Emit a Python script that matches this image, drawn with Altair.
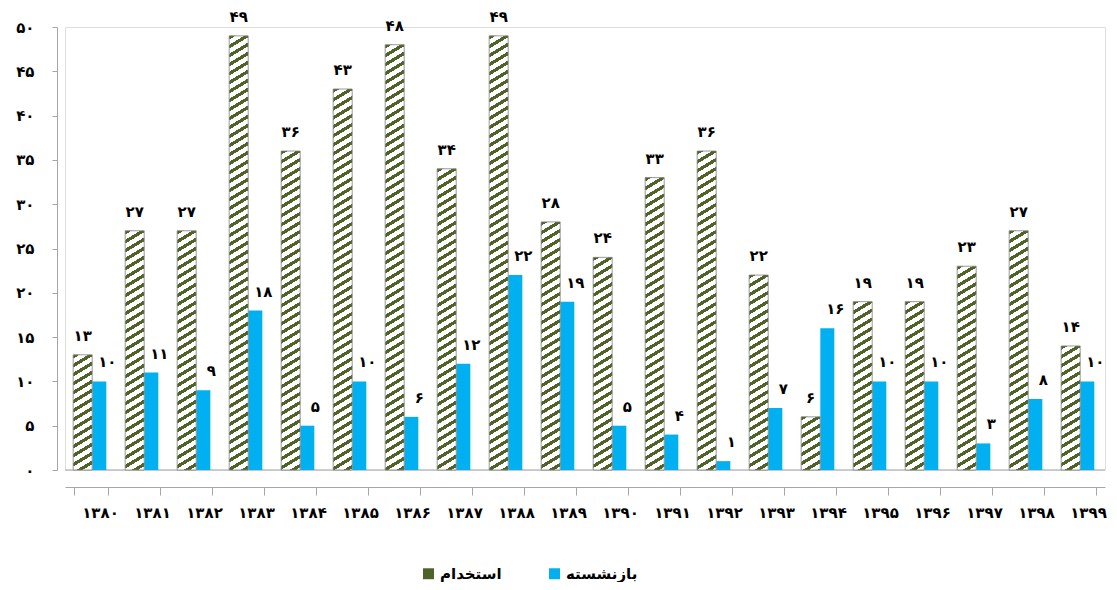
import altair as alt
import pandas as pd

years = list(range(1380, 1400))
hired = [13, 27, 27, 49, 36, 43, 48, 34, 49, 28, 24, 33, 36, 22, 6, 19, 19, 23, 27, 14]
retired = [10, 11, 9, 18, 5, 10, 6, 12, 22, 19, 5, 4, 1, 7, 16, 10, 10, 3, 8, 10]
SER_H = "استخدام"
SER_R = "بازنشسته"
y_ticks = list(range(0, 51, 5))

fa = str.maketrans("0123456789", "۰۱۲۳۴۵۶۷۸۹")
year_labels = [str(y).translate(fa) for y in years]
y_tick_labels = [str(v).translate(fa) for v in y_ticks]

rows = []
for yl, h, r in zip(year_labels, hired, retired):
    rows.append({"year": yl, "series": SER_H, "value": h, "label": str(h).translate(fa)})
    rows.append({"year": yl, "series": SER_R, "value": r, "label": str(r).translate(fa)})
df = pd.DataFrame(rows)

W, H = 1040, 443
GREEN = "#4F6228"
BLUE = "#00B0F0"
FONT = "DejaVu Sans"
HW, BW = 19, 14


def hatch(v, w=HW, period=9.0, slope=0.6, frac=0.42):
    h = max(v * H / 50.0, 1.0)
    cx, cy = slope * w / (slope * w + h), h / (slope * w + h)
    n2 = cx * cx + cy * cy
    x2, y2 = cx / n2, cy / n2
    n = (slope * w + h) / period
    stops = []
    i = 0
    while i < n:
        a = round(i / n, 5)
        b = round(min((i + frac) / n, 1), 5)
        c = round(min((i + 1) / n, 1), 5)
        stops += [{"offset": a, "color": GREEN}, {"offset": b, "color": GREEN},
                  {"offset": b, "color": "#ffffff"}, {"offset": c, "color": "#ffffff"}]
        i += 1
    return {"gradient": "linear", "x1": 0, "y1": 0, "x2": round(x2, 5), "y2": round(y2, 5), "stops": stops}


x_enc = alt.X(
    "year:N", sort=year_labels,
    scale=alt.Scale(domain=year_labels, paddingInner=0.36, paddingOuter=0.18),
    axis=alt.Axis(title=None, labelAngle=0, offset=17, domainColor="#a6a6a6", tickColor="#a6a6a6",
                  tickSize=8, tickBand="extent", labelPadding=10, labelFontSize=15, labelFont=FONT,
                  labelFontWeight="bold", labelColor="#000000", labelOffset=9),
)
xo_enc = alt.XOffset("series:N", scale=alt.Scale(domain=[SER_H, SER_R], paddingInner=0, paddingOuter=0))
y_enc = alt.Y(
    "value:Q", scale=alt.Scale(domain=[0, 50], nice=False),
    axis=alt.Axis(title=None, grid=False, values=y_ticks, offset=8, domainColor="#a6a6a6",
                  tickColor="#a6a6a6", tickSize=5, labelPadding=18, labelFontSize=15, labelFont=FONT,
                  labelFontWeight="bold", labelColor="#000000",
                  labelExpr="[" + ",".join("'" + s + "'" for s in y_tick_labels) + "][datum.value/5]"),
)

base = alt.Chart(df)

floor = alt.Chart(pd.DataFrame({"v": [0]})).mark_rule(color="#bfbfbf", strokeWidth=1.5).encode(y=alt.Y("v:Q"))

blue_bars = base.transform_filter(alt.datum.series == SER_R).mark_bar(width=BW).encode(
    x=x_enc, xOffset=xo_enc, y=y_enc,
    color=alt.Color("series:N", scale=alt.Scale(domain=[SER_H, SER_R], range=[GREEN, BLUE]),
                    legend=alt.Legend(title=None, orient="none", legendX=356, legendY=539,
                                      direction="horizontal", symbolType="square", symbolSize=120,
                                      labelFontSize=15, labelFont=FONT, labelFontWeight="bold",
                                      labelColor="#000000", columnPadding=45, padding=0,
                                      labelLimit=300, symbolStrokeWidth=0)),
)

hatched = []
for yl, h in zip(year_labels, hired):
    hatched.append(
        base.transform_filter((alt.datum.series == SER_H) & (alt.datum.year == yl))
        .mark_bar(width=HW, fill=hatch(h), stroke="#7f7f7f", strokeWidth=0.8)
        .encode(x=x_enc, xOffset=xo_enc, y=y_enc)
    )

txt_h = base.transform_filter(alt.datum.series == SER_H).mark_text(
    baseline="bottom", dy=-11, fontSize=15, font=FONT, fontWeight="bold", color="#000000"
).encode(x=x_enc, xOffset=xo_enc, y=y_enc, text="label:N")

txt_r = base.transform_filter(alt.datum.series == SER_R).mark_text(
    baseline="bottom", dy=-11, dx=8, fontSize=15, font=FONT, fontWeight="bold", color="#000000"
).encode(x=x_enc, xOffset=xo_enc, y=y_enc, text="label:N")

chart = alt.layer(floor, blue_bars, *hatched, txt_h, txt_r).properties(
    width=W, height=H, autosize="none",
    padding={"left": 57, "top": 19, "right": 4, "bottom": 112},
).configure_view(stroke=None).configure(background="#ffffff")

chart.save("out.html", embed_options={"renderer": "svg", "actions": False})
